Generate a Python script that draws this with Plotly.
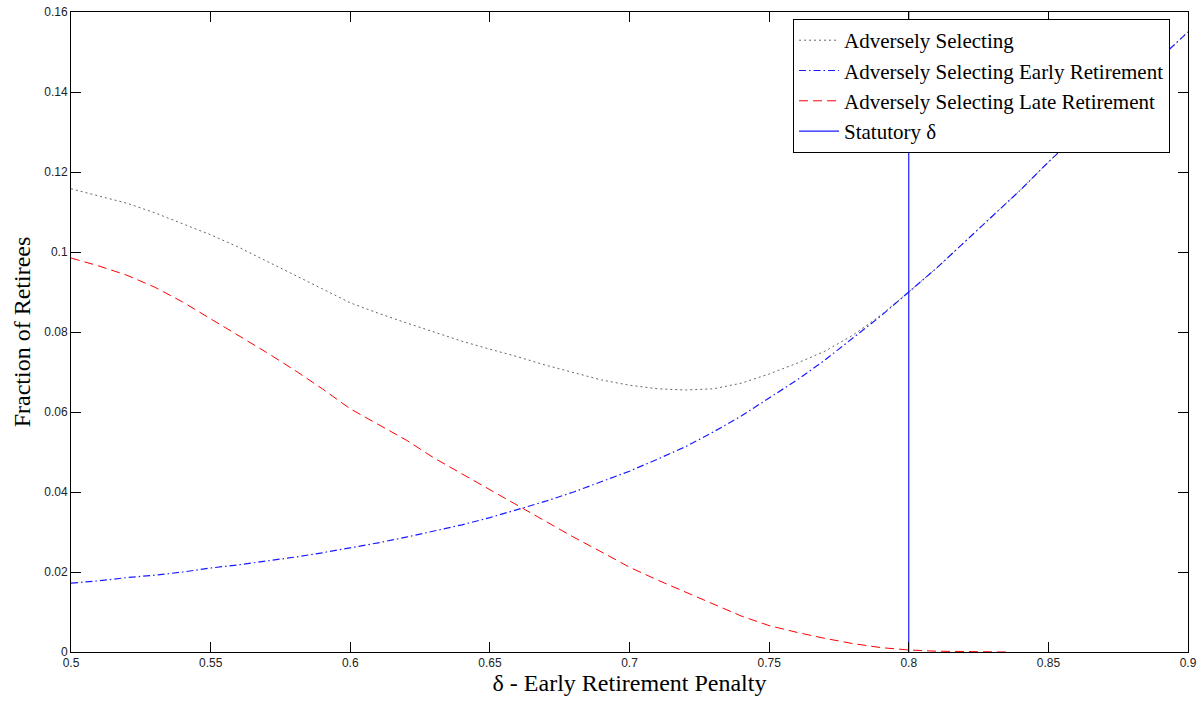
import plotly.graph_objects as go

delta = [0.50, 0.51, 0.52, 0.53, 0.54, 0.55, 0.56, 0.57, 0.58, 0.59,
         0.60, 0.61, 0.62, 0.63, 0.64, 0.65, 0.66, 0.67, 0.68, 0.69,
         0.70, 0.71, 0.72, 0.73, 0.74, 0.75, 0.76, 0.77, 0.78, 0.79,
         0.80, 0.81, 0.82, 0.83, 0.84, 0.85, 0.86, 0.87, 0.88, 0.89, 0.90]

adverse_all = [0.1158, 0.1140, 0.1122, 0.1098, 0.1070, 0.1043, 0.1012, 0.0978, 0.0943, 0.0908,
               0.0873, 0.0847, 0.0823, 0.0800, 0.0777, 0.0757, 0.0738, 0.0717, 0.0698, 0.0680,
               0.0667, 0.0658, 0.0655, 0.0658, 0.0672, 0.0695, 0.0722, 0.0752, 0.0792, 0.0842,
               0.0900, 0.0960, 0.1025, 0.1090, 0.1155, 0.1225, 0.1290, 0.1350, 0.1420, 0.1485, 0.1550]

adverse_early = [0.0172, 0.0178, 0.0186, 0.0192, 0.0200, 0.0210, 0.0218, 0.0227, 0.0237, 0.0248,
                 0.0260, 0.0273, 0.0287, 0.0302, 0.0318, 0.0336, 0.0357, 0.0377, 0.0400, 0.0425,
                 0.0452, 0.0482, 0.0513, 0.0550, 0.0590, 0.0635, 0.0680, 0.0730, 0.0785, 0.0840,
                 0.0900, 0.0960, 0.1025, 0.1090, 0.1155, 0.1225, 0.1290, 0.1350, 0.1420, 0.1485, 0.1550]

delta_late = [0.50, 0.51, 0.52, 0.53, 0.54, 0.55, 0.56, 0.57, 0.58, 0.59,
              0.60, 0.61, 0.62, 0.63, 0.64, 0.65, 0.66, 0.67, 0.68, 0.69,
              0.70, 0.71, 0.72, 0.73, 0.74, 0.75, 0.76, 0.77, 0.78, 0.79,
              0.80, 0.81, 0.82, 0.83, 0.835]
adverse_late = [0.0985, 0.0965, 0.0942, 0.0912, 0.0875, 0.0833, 0.0792, 0.0749, 0.0705, 0.0658,
                0.0608, 0.0570, 0.0530, 0.0485, 0.0445, 0.0405, 0.0365, 0.0325, 0.0287, 0.0250,
                0.0212, 0.0180, 0.0150, 0.0120, 0.0090, 0.0066, 0.0049, 0.0034, 0.0021, 0.0011,
                0.0005, 0.0002, 0.0001, 0.0, 0.0]

statutory_delta = 0.8
y_limits = [0, 0.16]
x_limits = [0.5, 0.9]

serif = "Liberation Serif, Times New Roman, serif"
sans = "Liberation Sans, Arial, sans-serif"
blue = "#1a1aff"

fig = go.Figure()
fig.add_trace(go.Scatter(x=delta, y=adverse_all, mode="lines", name="Adversely Selecting",
                         line=dict(color="#666666", width=1, dash="2px,3px")))
fig.add_trace(go.Scatter(x=delta, y=adverse_early, mode="lines",
                         name="Adversely Selecting Early Retirement",
                         line=dict(color=blue, width=1.2, dash="7px,3px,1.5px,3px")))
fig.add_trace(go.Scatter(x=delta_late, y=adverse_late, mode="lines",
                         name="Adversely Selecting Late Retirement",
                         line=dict(color="red", width=1, dash="9px,5px")))
fig.add_trace(go.Scatter(x=[statutory_delta, statutory_delta], y=y_limits, mode="lines",
                         name="Statutory δ", line=dict(color=blue, width=1.2)))

axis_common = dict(showline=True, linecolor="black", linewidth=1, mirror="ticks",
                   ticks="inside", ticklen=10, tickcolor="black", tickwidth=1,
                   showgrid=False, zeroline=False, automargin=False,
                   tickfont=dict(family=sans, size=12, color="#222"))

fig.update_layout(
    width=1202, height=702,
    margin=dict(l=71, r=14, t=12, b=50, autoexpand=False),
    paper_bgcolor="white", plot_bgcolor="white",
    xaxis=dict(range=x_limits, dtick=0.05, tick0=0.5,
               title=dict(text="δ - Early Retirement Penalty",
                          font=dict(family=serif, size=24, color="black"), standoff=2),
               **axis_common),
    yaxis=dict(range=y_limits, dtick=0.02, tick0=0,
               title=dict(text="Fraction of Retirees",
                          font=dict(family=serif, size=24, color="black"), standoff=6),
               **axis_common),
    legend=dict(x=0.6464, y=0.989, xanchor="left", yanchor="top",
                bgcolor="white", bordercolor="black", borderwidth=1,
                font=dict(family=serif, size=21, color="black"),
                itemwidth=40, tracegroupgap=0),
    showlegend=True,
)

fig.write_html("out.html")
